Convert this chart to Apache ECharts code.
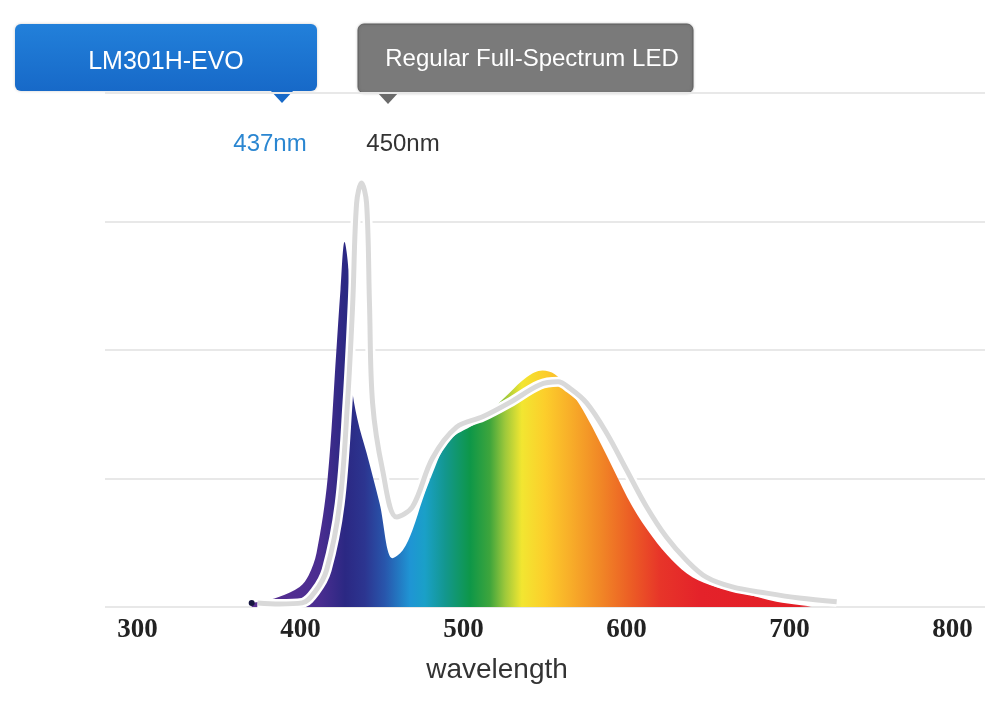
<!DOCTYPE html>
<html lang="en">
<head>
    <meta charset="UTF-8">
    <title>Spectrum</title>
    <script src="https://cdn.jsdelivr.net/npm/echarts@6.0.0/dist/echarts.min.js"></script>
    <style>
        html, body { margin: 0; padding: 0; background: #fff; }
        #main { width: 1000px; height: 701px; }
    </style>
</head>
<body>
<div id="main"></div>
<script>
    // x ticks (nm)
    var tickLabels = [300, 400, 500, 600, 700, 800];

    // LM301H-EVO spectrum
    var evoNm  = [370, 374.8, 387, 399.4, 405, 409.8, 416.6, 422, 424.5, 427, 429.4, 431.3, 435, 440.5, 448.5, 456.4, 462.6, 468.7, 475, 481, 487, 493, 508, 516, 528, 538.7, 548.5, 556, 563, 571, 579, 591.4, 603.7, 616, 628, 640.5, 655, 671, 692, 706, 714];
    var evoVal = [0.8, 1, 2, 3.9, 6.2, 10.5, 25, 50, 61.7, 71, 65.6, 43.6, 36.4, 30, 20.2, 9.5, 11, 15, 21, 26, 30.5, 33, 35.8, 38, 41.6, 44.7, 46, 45.3, 43, 39.5, 35, 27.2, 19.5, 13.6, 9.1, 5.8, 3.9, 2.7, 1, 0.4, 0.1];

    // Regular full-spectrum LED
    var regNm  = [373.6, 387, 401, 409, 416, 424, 428.8, 432, 434.4, 437.4, 440.5, 442.3, 444.2, 450.3, 459, 468.7, 481, 495.7, 511.7, 528, 546.6, 558, 565, 575.5, 587.7, 600, 612.3, 624.5, 636.8, 649, 665, 686, 706, 729];
    var regVal = [0.8, 0.6, 0.8, 3, 7.2, 20, 39.7, 59, 78.6, 82.5, 78.6, 59, 39.7, 26.7, 17.5, 19.5, 29, 35, 37, 39.7, 43.2, 43.8, 42.6, 39.7, 33.9, 26.7, 19.5, 13.6, 9.1, 5.8, 3.9, 2.7, 1.75, 1];

    var evoData = evoNm.map(function (n, i) { return [n, evoVal[i]]; });
    evoData[0] = { value: evoData[0], symbol: 'circle', symbolSize: 6, itemStyle: { color: '#15153f' } };
    var regData = regNm.map(function (n, i) { return [n, regVal[i]]; });

    var myChart = echarts.init(document.getElementById('main'));

    var option = {
        animation: false,
        grid: { left: 105, right: 15, top: 93, bottom: 94 },
        xAxis: {
            type: 'value',
            min: 280,
            max: 820,
            axisLine: { show: false },
            axisTick: { show: false },
            splitLine: { show: false },
            axisLabel: {
                customValues: tickLabels,
                margin: 10,
                fontFamily: 'Liberation Serif',
                fontWeight: 'bold',
                fontSize: 27,
                color: '#222'
            }
        },
        yAxis: {
            type: 'value',
            min: 0,
            max: 100,
            interval: 25,
            axisLine: { show: false },
            axisTick: { show: false },
            axisLabel: { show: false },
            splitLine: { lineStyle: { color: '#e8e8e8', width: 2 } }
        },
        series: [
            {
                name: 'LM301H-EVO',
                type: 'line',
                data: evoData,
                smooth: 0.35,
                symbol: 'none',
                z: 2,
                lineStyle: { width: 0 },
                areaStyle: {
                    opacity: 1,
                    color: {
                        type: 'linear', x: 252, y: 0, x2: 813, y2: 0, global: true,
                        colorStops: [
                            { offset: 0, color: '#5b2f92' },
                            { offset: 0.121, color: '#4a2d90' },
                            { offset: 0.166, color: '#2b2883' },
                            { offset: 0.201, color: '#2c3590' },
                            { offset: 0.237, color: '#2856ac' },
                            { offset: 0.282, color: '#1f95d4' },
                            { offset: 0.308, color: '#1aa0c8' },
                            { offset: 0.344, color: '#13978f' },
                            { offset: 0.389, color: '#0e9748' },
                            { offset: 0.424, color: '#3ea53c' },
                            { offset: 0.451, color: '#9dc83b' },
                            { offset: 0.481, color: '#f2e631' },
                            { offset: 0.522, color: '#fcce2b' },
                            { offset: 0.567, color: '#f8ae29' },
                            { offset: 0.620, color: '#f18826' },
                            { offset: 0.674, color: '#ec5e25' },
                            { offset: 0.727, color: '#e73529' },
                            { offset: 0.799, color: '#e4222a' },
                            { offset: 1, color: '#e31e25' }
                        ]
                    }
                }
            },
            {
                name: 'halo',
                type: 'line',
                data: regData,
                smooth: 0.35,
                symbol: 'none',
                z: 3,
                lineStyle: { color: '#ffffff', width: 10 }
            },
            {
                name: 'Regular Full-Spectrum LED',
                type: 'line',
                data: regData,
                smooth: 0.35,
                symbol: 'none',
                z: 4,
                lineStyle: { color: '#d9d9d9', width: 5 }
            }
        ],
        graphic: [
            {
                type: 'group',
                children: [
                    {
                        type: 'rect',
                        shape: { x: 15, y: 24, width: 302, height: 67, r: 6 },
                        style: {
                            fill: { type: 'linear', x: 0, y: 0, x2: 0, y2: 1,
                                colorStops: [{ offset: 0, color: '#2280da' }, { offset: 1, color: '#1769c8' }] },
                            shadowBlur: 3, shadowColor: 'rgba(0,0,0,0.2)'
                        }
                    },
                    {
                        type: 'polygon',
                        shape: { points: [[270, 90], [294, 90], [282, 103]] },
                        style: { fill: '#1769c8' }
                    },
                    {
                        type: 'text',
                        x: 166, y: 62,
                        style: { text: 'LM301H-EVO', fill: '#fff', font: '25px "Liberation Sans", Arial, sans-serif', align: 'center', verticalAlign: 'middle' }
                    }
                ]
            },
            {
                type: 'group',
                children: [
                    {
                        type: 'rect',
                        shape: { x: 358, y: 24, width: 335, height: 69, r: 6 },
                        style: { fill: '#7a7a7a', stroke: '#5f5f5f', lineWidth: 1,
                            shadowBlur: 3, shadowColor: 'rgba(0,0,0,0.2)' }
                    },
                    {
                        type: 'polygon',
                        shape: { points: [[377, 92], [399, 92], [388, 104]] },
                        style: { fill: '#6a6a6a' }
                    },
                    {
                        type: 'text',
                        x: 532, y: 59,
                        style: { text: 'Regular Full-Spectrum LED', fill: '#fff', font: '24px "Liberation Sans", Arial, sans-serif', align: 'center', verticalAlign: 'middle' }
                    }
                ]
            },
            {
                type: 'text',
                x: 270, y: 144,
                style: { text: '437nm', fill: '#2a86d1', font: '24px "Liberation Sans", Arial, sans-serif', align: 'center', verticalAlign: 'middle' }
            },
            {
                type: 'text',
                x: 403, y: 144,
                style: { text: '450nm', fill: '#333', font: '24px "Liberation Sans", Arial, sans-serif', align: 'center', verticalAlign: 'middle' }
            },
            {
                type: 'text',
                x: 497, y: 670,
                style: { text: 'wavelength', fill: '#333', font: '28px "Liberation Sans", Arial, sans-serif', align: 'center', verticalAlign: 'middle' }
            }
        ]
    };

    myChart.setOption(option);
</script>
</body>
</html>
